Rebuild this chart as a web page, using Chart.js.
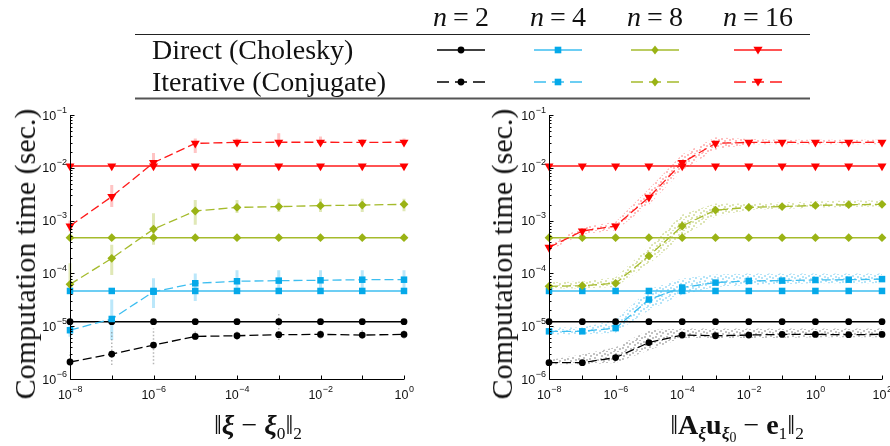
<!DOCTYPE html>
<html>
<head>
<meta charset="utf-8">
<title>Computation time</title>
<script src="https://cdn.jsdelivr.net/npm/chart.js@4.4.1/dist/chart.umd.min.js"></script>
<style>
  body { margin: 0; background: #fff; }
  #wrap { position: relative; width: 890px; height: 446px; overflow: hidden; font-family: "Liberation Serif", "Times New Roman", serif; color: #111; }
  #wrap canvas { position: absolute; top: 0; }
  .txt { position: absolute; white-space: nowrap; line-height: 1; }
  .ctr { transform: translate(-50%, -50%); }
  .rot { transform: translate(-50%, -50%) rotate(-90deg); }
  .m sub { font-size: 0.62em; vertical-align: -0.28em; line-height: 0; }
  .m sub sub { font-size: 0.8em; vertical-align: -0.25em; }
  .bi { font-weight: bold; font-style: italic; }
  .bf { font-weight: bold; }
  .eq { margin: 0 0.22em; }
</style>
</head>
<body>
<div id="wrap">
  <canvas id="leftChart" width="445" height="446" style="left:0"></canvas>
  <canvas id="rightChart" width="445" height="446" style="left:445px"></canvas>

  <svg id="key" width="890" height="110" style="position:absolute;left:0;top:0"></svg>
  <div class="txt" style="left:152px;top:36px;font-size:28px">Direct (Cholesky)</div>
  <div class="txt" style="left:152px;top:68px;font-size:28px">Iterative (Conjugate)</div>
  <div id="keyHead"></div>

  <div class="txt rot" style="left:25px;top:254px;font-size:30px">Computation time (sec.)</div>
  <div class="txt rot" style="left:502px;top:254px;font-size:30px">Computation time (sec.)</div>
  <div class="txt ctr m" style="left:258px;top:425px;font-size:28px">&#8214;<span class="bi">&#958;</span> &#8722; <span class="bi">&#958;</span><sub>0</sub>&#8214;<sub>2</sub></div>
  <div class="txt ctr m" style="left:737px;top:425px;font-size:28px">&#8214;<span class="bf">A</span><sub class="bi">&#958;</sub><span class="bf">u</span><sub><span class="bi">&#958;</span><sub>0</sub></sub> &#8722; <span class="bf">e</span><sub>1</sub>&#8214;<sub>2</sub></div>
</div>

<script>
// decades on both axes
var xLeft = [1e-8, 1e-7, 1e-6, 1e-5, 1e-4, 1e-3, 1e-2, 1e-1, 1e0];
var xRight = [1e-8, 1e-7, 1e-6, 1e-5, 1e-4, 1e-3, 1e-2, 1e-1, 1e0, 1e1, 1e2];
var xLabeled = [1e-8, 1e-6, 1e-4, 1e-2, 1e0, 1e2];
var yTicks = [1e-6, 1e-5, 1e-4, 1e-3, 1e-2, 1e-1];
var sizes = ['2', '4', '8', '16'];

// direct solver (Cholesky), seconds
var chol2L = [1.22e-5, 1.22e-5, 1.22e-5, 1.22e-5, 1.22e-5, 1.22e-5, 1.22e-5, 1.22e-5, 1.22e-5];
var chol4L = [4.65e-5, 4.65e-5, 4.65e-5, 4.65e-5, 4.65e-5, 4.65e-5, 4.65e-5, 4.65e-5, 4.65e-5];
var chol8L = [4.75e-4, 4.75e-4, 4.75e-4, 4.75e-4, 4.75e-4, 4.75e-4, 4.75e-4, 4.75e-4, 4.75e-4];
var chol16L = [1.08e-2, 1.08e-2, 1.08e-2, 1.08e-2, 1.08e-2, 1.08e-2, 1.08e-2, 1.08e-2, 1.08e-2];

// iterative solver (conjugate gradient), seconds
var cg2L = [2.1e-6, 2.97e-6, 4.4e-6, 6.4e-6, 6.6e-6, 6.9e-6, 7.0e-6, 6.8e-6, 7.0e-6];
var cg4L = [8.4e-6, 1.37e-5, 4.5e-5, 6.5e-5, 7.1e-5, 7.3e-5, 7.4e-5, 7.6e-5, 7.6e-5];
var cg8L = [6.2e-5, 1.93e-4, 6.9e-4, 1.52e-3, 1.78e-3, 1.84e-3, 1.92e-3, 1.97e-3, 2.03e-3];
var cg16L = [7.9e-4, 2.84e-3, 1.25e-2, 2.9e-2, 3.03e-2, 3.05e-2, 3.05e-2, 3.03e-2, 3.05e-2];

// spread of the iterative timings (min / max per point)
var lo2L = [2.0e-6, 1.85e-6, 1.9e-6, 5.5e-6, 5.5e-6, 5.5e-6, 5.8e-6, 5.8e-6, 5.8e-6];
var hi2L = [3.2e-6, 8.5e-6, 9.0e-6, 8.5e-6, 8.5e-6, 1.8e-5, 8.5e-6, 8.5e-6, 8.5e-6];
var lo4L = [6.3e-6, 5.5e-6, 2.2e-5, 3.0e-5, 4.3e-5, 4.3e-5, 4.3e-5, 4.3e-5, 4.5e-5];
var hi4L = [1.15e-5, 3.2e-5, 8.1e-5, 1.0e-4, 1.15e-4, 1.15e-4, 1.15e-4, 1.15e-4, 1.15e-4];
var lo8L = [4.2e-5, 9.3e-5, 3.5e-4, 8.3e-4, 1.4e-3, 1.45e-3, 1.45e-3, 1.45e-3, 1.5e-3];
var hi8L = [1.55e-4, 3.5e-4, 1.38e-3, 2.45e-3, 2.45e-3, 2.6e-3, 2.6e-3, 2.6e-3, 2.6e-3];
var lo16L = [6.2e-4, 1.8e-3, 9.8e-3, 1.9e-2, 2.7e-2, 2.9e-2, 2.9e-2, 2.8e-2, 2.7e-2];
var hi16L = [1.0e-3, 4.7e-3, 1.9e-2, 3.6e-2, 3.6e-2, 4.5e-2, 3.9e-2, 3.5e-2, 3.6e-2];

// right panel
var chol2R = [1.22e-5, 1.22e-5, 1.22e-5, 1.22e-5, 1.22e-5, 1.22e-5, 1.22e-5, 1.22e-5, 1.22e-5, 1.22e-5, 1.22e-5];
var chol4R = [4.65e-5, 4.65e-5, 4.65e-5, 4.65e-5, 4.65e-5, 4.65e-5, 4.65e-5, 4.65e-5, 4.65e-5, 4.65e-5, 4.65e-5];
var chol8R = [4.75e-4, 4.75e-4, 4.75e-4, 4.75e-4, 4.75e-4, 4.75e-4, 4.75e-4, 4.75e-4, 4.75e-4, 4.75e-4, 4.75e-4];
var chol16R = [1.08e-2, 1.08e-2, 1.08e-2, 1.08e-2, 1.08e-2, 1.08e-2, 1.08e-2, 1.08e-2, 1.08e-2, 1.08e-2, 1.08e-2];

var cg2R = [2.04e-6, 2.04e-6, 2.54e-6, 4.9e-6, 6.8e-6, 6.6e-6, 6.8e-6, 7.0e-6, 7.0e-6, 6.9e-6, 7.0e-6];
var cg4R = [8.0e-6, 8.0e-6, 9.2e-6, 3.2e-5, 5.4e-5, 6.7e-5, 7.2e-5, 7.3e-5, 7.5e-5, 7.6e-5, 7.8e-5];
var cg8R = [5.7e-5, 5.85e-5, 6.5e-5, 2.14e-4, 7.9e-4, 1.58e-3, 1.78e-3, 1.84e-3, 1.94e-3, 2.0e-3, 2.03e-3];
var cg16R = [3.1e-4, 6.35e-4, 7.9e-4, 2.76e-3, 1.25e-2, 2.9e-2, 3.03e-2, 3.05e-2, 3.03e-2, 3.03e-2, 3.05e-2];

// envelope of the scattered runs
var lo2R = [1.9e-6, 1.9e-6, 2.0e-6, 3.5e-6, 6.0e-6, 6.0e-6, 6.0e-6, 6.0e-6, 6.2e-6, 6.2e-6, 6.2e-6];
var hi2R = [2.3e-6, 2.9e-6, 4.0e-6, 8.5e-6, 9.0e-6, 9.0e-6, 9.0e-6, 9.0e-6, 9.0e-6, 9.0e-6, 9.0e-6];
var lo4R = [7.0e-6, 7.0e-6, 7.5e-6, 2.0e-5, 4.0e-5, 5.5e-5, 6.0e-5, 6.2e-5, 6.5e-5, 6.5e-5, 6.5e-5];
var hi4R = [9.5e-6, 9.5e-6, 1.3e-5, 5.0e-5, 8.0e-5, 9.5e-5, 1.0e-4, 1.0e-4, 1.0e-4, 1.0e-4, 1.0e-4];
var lo8R = [5.2e-5, 5.2e-5, 5.5e-5, 1.5e-4, 5.0e-4, 1.2e-3, 1.6e-3, 1.65e-3, 1.75e-3, 1.8e-3, 1.85e-3];
var hi8R = [6.8e-5, 7.0e-5, 8.5e-5, 3.2e-4, 1.3e-3, 2.1e-3, 2.1e-3, 2.2e-3, 2.3e-3, 2.4e-3, 2.4e-3];
var lo16R = [2.7e-4, 5.5e-4, 6.5e-4, 2.0e-3, 9.0e-3, 2.2e-2, 2.8e-2, 2.8e-2, 2.8e-2, 2.8e-2, 2.8e-2];
var hi16R = [3.6e-4, 7.5e-4, 9.5e-4, 4.0e-3, 1.8e-2, 3.8e-2, 3.5e-2, 3.4e-2, 3.4e-2, 3.4e-2, 3.4e-2];

var styles = [
  { line: '#000000', mark: '#000000', faint: 'rgba(120,120,120,0.55)', dot: 'rgba(120,120,120,0.45)', shape: 'circle', r: 3.4, rot: 0 },
  { line: '#3dbef0', mark: '#05a9e9', faint: 'rgba(60,185,240,0.35)', dot: 'rgba(90,195,240,0.45)', shape: 'rect', r: 4.6, rot: 0 },
  { line: '#a5bb2c', mark: '#9ab315', faint: 'rgba(165,188,45,0.35)', dot: 'rgba(180,198,90,0.45)', shape: 'rectRot', r: 4.4, rot: 0 },
  { line: '#ff1a1a', mark: '#ff0000', faint: 'rgba(255,60,60,0.3)', dot: 'rgba(255,110,110,0.45)', shape: 'triangle', r: 5.2, rot: 180 }
];

// fixed dot layout of one fill tile
var dotTile = [[0, 0], [5, 1], [2, 3], [8, 2], [6, 5], [1, 6], [4, 8], [9, 7], [3, 10], [7, 10]];

function pts(xs, ys) {
  return xs.map(function (x, i) { return { x: x, y: ys[i] }; });
}

function series(xs, ys, st, dashed) {
  return {
    data: pts(xs, ys),
    borderColor: st.line,
    borderWidth: dashed ? 1.3 : 1.5,
    borderDash: dashed ? [9, 4] : [],
    pointStyle: st.shape,
    pointRotation: st.rot,
    pointRadius: st.r,
    pointBackgroundColor: st.mark,
    pointBorderColor: st.mark,
    pointBorderWidth: 0,
    tension: 0,
    clip: false,
    order: dashed ? 1 : 2
  };
}

// vertical spread bars, one segment per x value
function whisker(xs, lo, hi, st, dotted) {
  var d = [];
  for (var i = 0; i < xs.length; i++) {
    d.push({ x: xs[i], y: lo[i] }, { x: xs[i], y: hi[i] }, { x: xs[i], y: null });
  }
  return {
    data: d,
    borderColor: st.faint,
    borderWidth: dotted ? 1.5 : 3,
    borderDash: dotted ? [1.5, 2] : [],
    pointRadius: 0,
    spanGaps: false,
    clip: false,
    order: 3
  };
}

function dots(color) {
  var c = document.createElement('canvas');
  c.width = 11; c.height = 11;
  var g = c.getContext('2d');
  g.fillStyle = color;
  dotTile.forEach(function (p) { g.fillRect(p[0], p[1], 2, 2); });
  return g.createPattern(c, 'repeat');
}

// lower edge + upper edge filled down to it
function cloud(xs, lo, hi, st) {
  return [
    { data: pts(xs, lo), borderWidth: 0, pointRadius: 0, fill: false, order: 4 },
    { data: pts(xs, hi), borderWidth: 0, pointRadius: 0, fill: '-1', backgroundColor: dots(st.dot), order: 4 }
  ];
}

function sup(ctx, exp, x, base, align) {
  var big = '10', small = (exp < 0 ? '\u2212' : '') + Math.abs(exp);
  ctx.font = '12.5px "Liberation Sans", Arial, sans-serif';
  var wb = ctx.measureText(big).width;
  ctx.font = '9px "Liberation Sans", Arial, sans-serif';
  var ws = ctx.measureText(small).width;
  var x0 = align === 'right' ? x - wb - ws : x - (wb + ws) / 2;
  ctx.font = '12.5px "Liberation Sans", Arial, sans-serif';
  ctx.fillText(big, x0, base);
  ctx.font = '9px "Liberation Sans", Arial, sans-serif';
  ctx.fillText(small, x0 + wb + 0.5, base - 7);
}

var logAxes = {
  id: 'logAxes',
  afterDraw: function (chart) {
    var ctx = chart.ctx, a = chart.chartArea;
    var xs = chart.scales.x, ys = chart.scales.y;
    var left = Math.round(a.left) + 0.5, bottom = Math.round(a.bottom) + 0.5;
    ctx.save();
    ctx.strokeStyle = '#000';
    ctx.lineWidth = 1;
    ctx.beginPath();
    ctx.moveTo(left, a.top);
    ctx.lineTo(left, bottom);
    ctx.lineTo(a.right, bottom);
    ys.ticks.forEach(function (t) {
      var y = Math.round(ys.getPixelForValue(t.value)) + 0.5;
      ctx.moveTo(left, y); ctx.lineTo(left + 4, y);
      for (var k = 2; k < 10; k++) {
        if (t.value * k >= ys.max) break;
        var ym = Math.round(ys.getPixelForValue(t.value * k)) + 0.5;
        ctx.moveTo(left, ym); ctx.lineTo(left + 2, ym);
      }
    });
    xs.ticks.forEach(function (t) {
      var x = Math.round(xs.getPixelForValue(t.value)) + 0.5;
      ctx.moveTo(x, bottom); ctx.lineTo(x, bottom - 4);
    });
    ctx.stroke();

    ctx.fillStyle = '#111';
    ctx.textBaseline = 'alphabetic';
    ys.ticks.forEach(function (t) {
      var y = ys.getPixelForValue(t.value);
      sup(ctx, Math.round(Math.log10(t.value)), left - 4, y + 4.5, 'right');
    });
    xs.ticks.forEach(function (t) {
      if (xLabeled.indexOf(t.value) < 0) return;
      var x = xs.getPixelForValue(t.value);
      sup(ctx, Math.round(Math.log10(t.value)), x, bottom + 19, 'center');
    });
    ctx.restore();
  }
};

function axes(xs, yAxisWidth) {
  return {
    x: {
      type: 'logarithmic', min: xs[0], max: xs[xs.length - 1],
      grid: { display: false }, border: { display: false }, ticks: { display: false },
      afterBuildTicks: function (s) { s.ticks = xs.map(function (v) { return { value: v }; }); },
      afterFit: function (s) { s.height = 67; }
    },
    y: {
      type: 'logarithmic', min: yTicks[0], max: yTicks[yTicks.length - 1],
      grid: { display: false }, border: { display: false }, ticks: { display: false },
      afterBuildTicks: function (s) { s.ticks = yTicks.map(function (v) { return { value: v }; }); },
      afterFit: function (s) { s.width = yAxisWidth; }
    }
  };
}

function baseOptions(xs, yAxisWidth, padRight) {
  return {
    responsive: false,
    animation: false,
    events: [],
    layout: { padding: { top: 115, right: padRight, left: 0, bottom: 0 }, autoPadding: false },
    plugins: { legend: { display: false }, tooltip: { enabled: false } },
    scales: axes(xs, yAxisWidth)
  };
}

var leftSets = [
  whisker(xLeft, lo2L, hi2L, styles[0], true),
  whisker(xLeft, lo4L, hi4L, styles[1]),
  whisker(xLeft, lo8L, hi8L, styles[2]),
  whisker(xLeft, lo16L, hi16L, styles[3]),
  series(xLeft, chol2L, styles[0], false),
  series(xLeft, chol4L, styles[1], false),
  series(xLeft, chol8L, styles[2], false),
  series(xLeft, chol16L, styles[3], false),
  series(xLeft, cg2L, styles[0], true),
  series(xLeft, cg4L, styles[1], true),
  series(xLeft, cg8L, styles[2], true),
  series(xLeft, cg16L, styles[3], true)
];

var rightSets = []
  .concat(cloud(xRight, lo2R, hi2R, styles[0]))
  .concat(cloud(xRight, lo4R, hi4R, styles[1]))
  .concat(cloud(xRight, lo8R, hi8R, styles[2]))
  .concat(cloud(xRight, lo16R, hi16R, styles[3]))
  .concat([
    series(xRight, chol2R, styles[0], false),
    series(xRight, chol4R, styles[1], false),
    series(xRight, chol8R, styles[2], false),
    series(xRight, chol16R, styles[3], false),
    series(xRight, cg2R, styles[0], true),
    series(xRight, cg4R, styles[1], true),
    series(xRight, cg8R, styles[2], true),
    series(xRight, cg16R, styles[3], true)
  ]);

new Chart(document.getElementById('leftChart'), {
  type: 'line',
  data: { datasets: leftSets },
  options: baseOptions(xLeft, 70, 41),
  plugins: [logAxes]
});

new Chart(document.getElementById('rightChart'), {
  type: 'line',
  data: { datasets: rightSets },
  options: baseOptions(xRight, 104, 8),
  plugins: [logAxes]
});

// key table: header, rules and line samples
var key = document.getElementById('key');
var ns = 'http://www.w3.org/2000/svg';
var colX = [461, 558, 655, 758];
function el(name, attrs) {
  var e = document.createElementNS(ns, name);
  for (var k in attrs) e.setAttribute(k, attrs[k]);
  key.appendChild(e);
  return e;
}
el('line', { x1: 135, x2: 810, y1: 34.5, y2: 34.5, stroke: '#222', 'stroke-width': 1 });
el('line', { x1: 135, x2: 810, y1: 98.5, y2: 98.5, stroke: '#555', 'stroke-width': 2 });

function marker(st, cx, cy) {
  if (st.shape === 'circle') el('circle', { cx: cx, cy: cy, r: st.r, fill: st.mark });
  else if (st.shape === 'rect') el('rect', { x: cx - 3.3, y: cy - 3.3, width: 6.6, height: 6.6, fill: st.mark });
  else if (st.shape === 'rectRot') el('polygon', { points: [cx, cy - 4.6, cx + 3.6, cy, cx, cy + 4.6, cx - 3.6, cy].join(' '), fill: st.mark });
  else el('polygon', { points: [cx - 4.6, cy - 3.2, cx + 4.6, cy - 3.2, cx, cy + 4.4].join(' '), fill: st.mark });
}

var head = document.getElementById('keyHead');
sizes.forEach(function (n, i) {
  var st = styles[i], cx = colX[i];
  el('line', { x1: cx - 24, x2: cx + 24, y1: 50, y2: 50, stroke: st.line, 'stroke-width': 1.5 });
  el('line', { x1: cx - 24, x2: cx + 24, y1: 82, y2: 82, stroke: st.line, 'stroke-width': 1.3, 'stroke-dasharray': '12 6' });
  marker(st, cx, 50);
  marker(st, cx, 82);
  var d = document.createElement('div');
  d.className = 'txt';
  d.style.cssText = 'left:' + cx + 'px;top:3px;font-size:28px;transform:translateX(-50%)';
  d.innerHTML = '<i>n</i><span class="eq">=</span>' + n;
  head.appendChild(d);
});
</script>
</body>
</html>
